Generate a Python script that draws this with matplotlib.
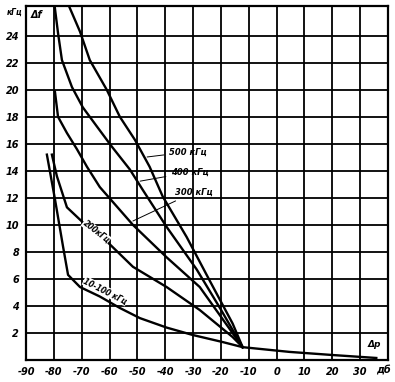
import numpy as np
import matplotlib.pyplot as plt

# кривые: x - дб, y - кГц
p_10_100 = [-82.5, -79.6, -76.7, -74.9, -70.6, -63.5, -56.3, -49.1, -39.5, -30.1, -19.4, -12.2]
f_10_100 = [15.2, 11.9, 8.4, 6.3, 5.4, 4.7, 3.85, 3.1, 2.4, 1.85, 1.33, 0.95]

p_200 = [-80.7, -78.9, -75.3, -68.1, -60.6, -51.6, -39.5, -27.6, -15.8, -12.2]
f_200 = [15.2, 13.6, 11.3, 9.9, 8.7, 6.9, 5.4, 3.7, 1.7, 0.95]

p_300 = [-79.6, -78.5, -75.3, -71.7, -68.1, -63.5, -51.6, -39.5, -27.6, -12.2]
f_300 = [19.85, 18.0, 16.8, 15.6, 14.3, 12.8, 10.0, 7.6, 5.4, 0.95]

p_400 = [-79.9, -78.5, -77.1, -73.5, -69.6, -64.6, -59.2, -52.7, -48.1, -39.5, -28.7, -20.5, -12.2]
f_400 = [26.5, 24.2, 22.2, 20.2, 18.7, 17.3, 15.8, 14.1, 12.6, 9.85, 6.7, 3.9, 0.95]

p_500 = [-75.2, -70.6, -67.1, -61.0, -56.3, -50.9, -45.6, -40.9, -32.3, -24.1, -15.8, -12.2]
f_500 = [26.5, 24.3, 22.2, 20.0, 18.0, 16.3, 14.3, 12.1, 9.1, 5.9, 2.7, 0.95]

p_tail = [-12.2, 4.6, 20.0, 30.8, 35.8]
f_tail = [0.95, 0.6, 0.37, 0.22, 0.15]

xticks = [-90, -80, -70, -60, -50, -40, -30, -20, -10, 0, 10, 20, 30]
yticks = [2, 4, 6, 8, 10, 12, 14, 16, 18, 20, 22, 24]

fnt = dict(fontsize=7, style='italic', weight='bold')

fig = plt.figure(figsize=(3.95, 3.82), dpi=100)
ax = fig.add_axes([26/395, 1-360/382, 362/395, 354/382])

for x in xticks[1:]:
    ax.axvline(x, color='black', lw=1.3, zorder=1)
for y in yticks:
    ax.axhline(y, color='black', lw=1.3, zorder=1)

lw = 1.7
ax.plot(p_10_100, f_10_100, color='black', lw=lw, zorder=3)
ax.plot(p_200, f_200, color='black', lw=lw, zorder=3)
ax.plot(p_300, f_300, color='black', lw=lw, zorder=3)
ax.plot(p_400, f_400, color='black', lw=lw, zorder=3)
ax.plot(p_500, f_500, color='black', lw=lw, zorder=3)
ax.plot(p_tail, f_tail, color='black', lw=lw, zorder=3)

ax.set_xlim(-90, 40)
ax.set_ylim(0, 26.2)
ax.set_xticks(xticks)
ax.set_xticklabels([str(v) for v in xticks], **fnt)
ax.set_yticks(yticks)
ax.set_yticklabels([str(v) for v in yticks], **fnt)
ax.tick_params(length=0, pad=5)
for s in ax.spines.values():
    s.set_linewidth(1.6)

# подписи
ax.text(38.5, -0.75, 'дб', ha='center', va='center', **fnt)
ax.text(-91.2, 25.7, 'кГц', ha='right', va='center', fontsize=5.5, style='italic',
        weight='bold', clip_on=False)
ax.text(-88.5, 25.5, 'Δf', ha='left', va='center', fontsize=7, style='italic', weight='bold')
ax.text(35, 1.15, 'Δp', ha='center', va='center', fontsize=6.5, style='italic', weight='bold')

lab = dict(fontsize=6, style='italic', weight='bold', ha='left', va='center',
           arrowprops=dict(arrowstyle='-', lw=0.7, color='black'))
ax.annotate('500 кГц', xy=(-47.5, 15.0), xytext=(-38.5, 15.4), **lab)
ax.annotate('400 кГц', xy=(-50.0, 13.2), xytext=(-37.8, 13.9), **lab)
ax.annotate('300 кГц', xy=(-52.5, 10.2), xytext=(-36.6, 12.4), **lab)

ax.text(-64.8, 9.5, '200кГц', rotation=-38, ha='center', va='center', fontsize=5.5,
        style='italic', weight='bold', zorder=4,
        bbox=dict(facecolor='white', edgecolor='none', pad=0.3))
ax.text(-61.5, 5.1, '10-100 кГц', rotation=-27, ha='center', va='center', fontsize=5.5,
        style='italic', weight='bold', zorder=4,
        bbox=dict(facecolor='white', edgecolor='none', pad=0.3))

fig.savefig('out.png', dpi=100)
